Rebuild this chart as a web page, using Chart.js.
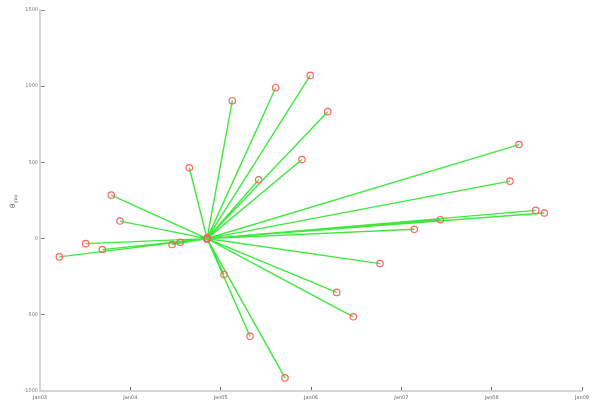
<!DOCTYPE html>
<html>
<head>
<meta charset="utf-8">
<script src="https://cdn.jsdelivr.net/npm/chart.js@4.4.1/dist/chart.umd.min.js"></script>
<style>
  html, body { margin: 0; padding: 0; background: #fff; }
  #wrap { width: 599px; height: 403px; }
</style>
</head>
<body>
<div id="wrap"><canvas id="c" width="599" height="403"></canvas></div>
<script>
// Hub observation (decimal year, value)
const hubYear = 2004.849;
const hubValue = 0;

// Linked observations (decimal year, value)
const years = [
  2003.214, 2003.506, 2003.690, 2003.789, 2003.886, 2004.461, 2004.553,
  2004.653, 2005.037, 2005.129, 2005.325, 2005.421, 2005.609, 2005.712,
  2005.900, 2005.992, 2006.185, 2006.285, 2006.468, 2006.764, 2007.144,
  2007.432, 2008.203, 2008.303, 2008.488, 2008.583
];
const values = [
  -120, -33, -72, 285, 115, -39, -24,
  465, -236, 905, -641, 386, 990, -914,
  519, 1071, 833, -353, -513, -164, 61,
  124, 377, 617, 185, 168
];

// Axis ticks
const xTickYears = [2003, 2004, 2005, 2006, 2007, 2008, 2009];
const yTickValues = [-1000, -500, 0, 500, 1000, 1500];
const yAxisSymbol = 'θ';
const yAxisSub = 'yay';

// Star path: hub -> point -> hub -> next point ...
const starData = [];
years.forEach((yr, i) => {
  starData.push({ x: hubYear, y: hubValue });
  starData.push({ x: yr, y: values[i] });
});

const axisTitle = {
  id: 'axisTitle',
  afterDraw(chart) {
    const ctx = chart.ctx;
    ctx.save();
    ctx.translate(15, 208);
    ctx.rotate(-Math.PI / 2);
    ctx.fillStyle = '#555';
    ctx.textBaseline = 'alphabetic';
    ctx.textAlign = 'left';
    ctx.font = '7px "DejaVu Sans"';
    ctx.fillText(yAxisSymbol, 0, 0);
    const w = ctx.measureText(yAxisSymbol).width;
    ctx.font = '5px "DejaVu Sans"';
    ctx.fillText(yAxisSub, w + 0.5, 2);
    ctx.restore();
  }
};

new Chart(document.getElementById('c'), {
  type: 'scatter',
  data: {
    datasets: [{
      data: starData,
      showLine: true,
      borderColor: '#3ee83e',
      borderWidth: 1.4,
      pointRadius: 3.2,
      pointBorderWidth: 1.2,
      pointBorderColor: '#ff6262',
      pointBackgroundColor: 'rgba(0,0,0,0)',
      pointHoverRadius: 3.2,
      tension: 0
    }]
  },
  options: {
    responsive: false,
    animation: false,
    layout: { padding: { top: 9, right: 17, left: 0, bottom: 0 } },
    plugins: { legend: { display: false }, tooltip: { enabled: false } },
    scales: {
      x: {
        type: 'linear',
        min: xTickYears[0],
        max: xTickYears[xTickYears.length - 1],
        afterBuildTicks(scale) { scale.ticks = xTickYears.map(v => ({ value: v })); },
        afterFit(scale) { scale.height = 12; },
        ticks: {
          padding: 8,
          font: { size: 5, family: 'DejaVu Sans' },
          color: '#666',
          maxRotation: 0,
          autoSkip: false,
          callback: v => 'Jan' + String(v).slice(2)
        },
        grid: { drawOnChartArea: false, drawTicks: true, tickLength: -4, color: '#666', lineWidth: 1 },
        border: { display: true, color: '#d4d4d4', width: 2 }
      },
      y: {
        min: yTickValues[0],
        max: yTickValues[yTickValues.length - 1],
        afterBuildTicks(scale) { scale.ticks = yTickValues.map(v => ({ value: v })); },
        afterFit(scale) { scale.width = 40; },
        ticks: {
          padding: 7,
          font: { size: 5, family: 'DejaVu Sans' },
          color: '#777',
          autoSkip: false,
          callback: v => String(v)
        },
        grid: { drawOnChartArea: false, drawTicks: true, tickLength: -5, color: '#888', lineWidth: 1 },
        border: { display: true, color: '#d4d4d4', width: 2 }
      }
    }
  },
  plugins: [axisTitle]
});
</script>
</body>
</html>
